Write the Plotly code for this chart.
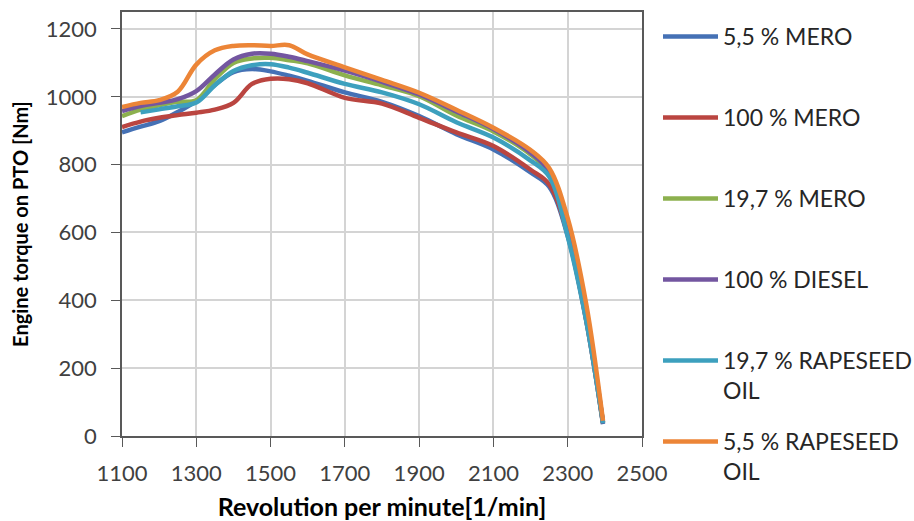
import plotly.graph_objects as go

rpm = [1100, 1150, 1200, 1250, 1300, 1350, 1400, 1450, 1500, 1550, 1600,
       1700, 1800, 1900, 2000, 2100, 2200, 2250, 2300, 2350, 2395]

mero_5_5 = [895, 912, 928, 955, 988, 1035, 1073, 1082, 1075, 1062, 1047,
            1013, 985, 943, 890, 845, 777, 735, 590, 340, 35]
mero_100 = [911, 927, 938, 946, 953, 962, 982, 1038, 1053, 1052, 1040,
            997, 980, 938, 895, 855, 785, 742, 595, 340, 38]
mero_19_7 = [943, 962, 975, 985, 990, 1052, 1100, 1113, 1115, 1108, 1099,
             1063, 1034, 1002, 945, 898, 830, 775, 610, 355, 40]
diesel_100 = [958, 973, 982, 993, 1017, 1066, 1110, 1127, 1127, 1118, 1105,
              1077, 1044, 1007, 957, 905, 835, 780, 620, 360, 40]
rapeseed_19_7 = [None, 954, 963, 972, 983, 1034, 1076, 1093, 1096, 1086, 1071,
                 1038, 1013, 978, 925, 880, 812, 765, 588, 338, 38]
rapeseed_5_5 = [970, 982, 990, 1015, 1095, 1137, 1150, 1152, 1150, 1152, 1125,
                1087, 1050, 1012, 962, 909, 843, 790, 642, 388, 45]

names = ["5,5 % MERO", "100 % MERO", "19,7 % MERO", "100 % DIESEL",
         "19,7 % RAPESEED<br>OIL", "5,5 % RAPESEED<br>OIL"]
series = [mero_5_5, mero_100, mero_19_7, diesel_100, rapeseed_19_7, rapeseed_5_5]
colors = ["#4571B5", "#BA4540", "#8CB04E", "#7356A0", "#3DA0BE", "#EC8537"]

# plot area in pixels
L, R, T, B = 122, 642, 12, 436
W, H = 914, 521

FONT = "Lato"

fig = go.Figure()
legend_targets = [37, 118, 199, 280, 361, 442]
for i, (nm, ys, c) in enumerate(zip(names, series, colors)):
    lg = "legend" if i == 0 else f"legend{i+1}"
    fig.add_trace(go.Scatter(
        x=rpm, y=ys, name=nm, mode="lines",
        line=dict(color=c, width=4.5, shape="spline", smoothing=1.0),
        connectgaps=False, legend=lg))

legend_common = dict(
    xref="container", yref="container",
    xanchor="left", yanchor="top", valign="top",
    font=dict(family=FONT, size=23, color="#262626"),
    bgcolor="rgba(0,0,0,0)", borderwidth=0, itemwidth=55,
    tracegroupgap=0,
)
lay_legends = {}
for i, py in enumerate(legend_targets):
    key = "legend" if i == 0 else f"legend{i+1}"
    lay_legends[key] = dict(
        x=658 / W,
        y=1 - (py - 22) / H,
        **legend_common)

fig.update_layout(
    width=W, height=H,
    margin=dict(l=L, r=W - R, t=T, b=H - B, autoexpand=False),
    paper_bgcolor="white", plot_bgcolor="white",
    showlegend=True,
    font=dict(family=FONT, size=22, color="#404040"),
    xaxis=dict(
        range=[1100, 2500], tickmode="linear", tick0=1100, dtick=200,
        showgrid=True, gridcolor="#D4D4D4", gridwidth=1.5,
        showline=True, linecolor="#595959", linewidth=1.5, mirror=True,
        ticks="outside", ticklen=9, tickcolor="#595959",
        ticklabelstandoff=8,
        zeroline=False,
        tickfont=dict(family=FONT, size=22, color="#404040"),
        title=dict(text="<b>Revolution per minute[1/min]</b>",
                   font=dict(family=FONT, size=25, color="#000000"),
                   standoff=18),
    ),
    yaxis=dict(
        range=[0, 1250], tickmode="linear", tick0=0, dtick=200,
        showgrid=True, gridcolor="#D4D4D4", gridwidth=1.5,
        showline=True, linecolor="#595959", linewidth=1.5, mirror=True,
        ticks="outside", ticklen=9, tickcolor="#595959",
        ticklabelstandoff=10,
        zeroline=False,
        tickfont=dict(family=FONT, size=22, color="#404040"),
        title=dict(text="<b>Engine torque on PTO [Nm]</b>",
                   font=dict(family=FONT, size=20, color="#000000"),
                   standoff=12),
    ),
    **lay_legends,
)

fig.write_html("out.html")
